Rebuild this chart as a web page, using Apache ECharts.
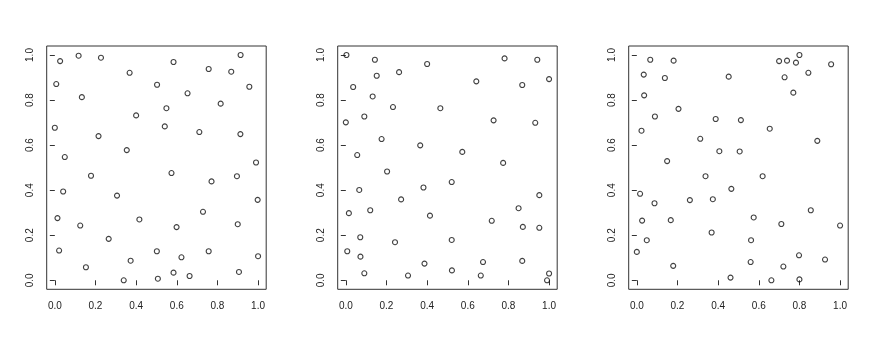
<!DOCTYPE html>
<html>
<head>
<meta charset="utf-8">
<script src="https://cdn.jsdelivr.net/npm/echarts@6/dist/echarts.min.js"></script>
<style>
html,body{margin:0;padding:0;background:#fff;}
#chart{width:872px;height:349px;}
</style>
</head>
<body>
<div id="chart"></div>
<script>
var tickValues = [0, 0.2, 0.4, 0.6, 0.8, 1.0];
var tickLabels = ['0.0', '0.2', '0.4', '0.6', '0.8', '1.0'];

var panel1X = [0.026,0.117,0.227,0.368,0.584,0.757,0.868,0.914,0.957,0.007,0.503,0.653,0.133,0.816,0.549,0.400,0.000,0.541,0.711,0.913,0.215,0.354,0.049,0.990,0.178,0.574,0.896,0.771,0.041,0.306,0.998,0.729,0.013,0.416,0.125,0.900,0.599,0.265,0.021,0.502,0.757,0.623,1.000,0.373,0.153,0.584,0.906,0.663,0.507,0.339];
var panel1Y = [0.973,0.997,0.988,0.921,0.969,0.938,0.926,1.000,0.859,0.871,0.868,0.830,0.813,0.784,0.764,0.732,0.677,0.683,0.658,0.649,0.640,0.578,0.547,0.523,0.464,0.476,0.462,0.439,0.394,0.376,0.357,0.304,0.276,0.270,0.243,0.249,0.236,0.184,0.132,0.129,0.129,0.102,0.107,0.087,0.058,0.034,0.037,0.019,0.007,0.000];

var panel2X = [0.003,0.143,0.400,0.781,0.942,0.152,0.262,0.036,0.642,0.868,1.000,0.132,0.232,0.465,0.091,0.000,0.727,0.932,0.176,0.366,0.573,0.056,0.774,0.203,0.521,0.382,0.066,0.952,0.272,0.850,0.120,0.015,0.414,0.718,0.871,0.952,0.071,0.521,0.242,0.007,0.072,0.675,0.868,0.387,0.522,0.091,0.306,0.664,1.000,0.990];
var panel2Y = [1.000,0.979,0.960,0.985,0.979,0.908,0.924,0.858,0.883,0.867,0.893,0.816,0.769,0.764,0.727,0.701,0.710,0.699,0.627,0.599,0.570,0.556,0.521,0.483,0.436,0.412,0.401,0.378,0.359,0.320,0.311,0.298,0.287,0.264,0.237,0.233,0.191,0.179,0.169,0.129,0.105,0.081,0.086,0.074,0.044,0.031,0.021,0.021,0.030,0.000];

var panel3X = [0.800,0.066,0.181,0.700,0.739,0.783,0.956,0.034,0.844,0.138,0.452,0.727,0.770,0.036,0.205,0.089,0.388,0.512,0.023,0.654,0.888,0.312,0.406,0.506,0.149,0.338,0.619,0.465,0.016,0.087,0.261,0.374,0.856,0.575,0.026,0.167,0.711,1.000,0.368,0.049,0.562,0.000,0.798,0.926,0.560,0.179,0.721,0.461,0.662,0.800];
var panel3Y = [1.000,0.979,0.975,0.973,0.975,0.966,0.959,0.913,0.921,0.898,0.904,0.901,0.833,0.821,0.761,0.727,0.716,0.711,0.664,0.673,0.619,0.628,0.573,0.572,0.529,0.462,0.462,0.406,0.384,0.342,0.356,0.360,0.311,0.279,0.265,0.267,0.250,0.243,0.212,0.178,0.178,0.126,0.111,0.092,0.081,0.064,0.061,0.012,0.000,0.004];

var panels = [[panel1X, panel1Y], [panel2X, panel2Y], [panel3X, panel3Y]];
var gridLefts = [46.7, 337.7, 628.7];

function zip(xs, ys) { return xs.map(function (x, i) { return [x, ys[i]]; }); }
function fmt(v) { var k = tickValues.indexOf(Math.round(v * 10) / 10); return k >= 0 ? tickLabels[k] : v.toFixed(1); }

var grids = [], xAxes = [], yAxes = [], series = [];
panels.forEach(function (p, i) {
  grids.push({
    left: gridLefts[i], top: 46, width: 219.5, height: 243.3,
    show: true, borderColor: '#333', borderWidth: 1, backgroundColor: 'transparent'
  });
  var common = {
    gridIndex: i, type: 'value', min: -0.04, max: 1.04,
    splitLine: { show: false },
    axisLine: { show: false },
    axisTick: { show: true, inside: false, length: 5, customValues: tickValues,
                lineStyle: { color: '#333', width: 1 } }
  };
  xAxes.push(Object.assign({}, common, {
    axisLabel: { customValues: tickValues, margin: 12, color: '#222', fontSize: 10,
                 fontFamily: 'Liberation Sans, Arial, sans-serif', formatter: fmt }
  }));
  yAxes.push(Object.assign({}, common, {
    axisLabel: { customValues: tickValues, margin: 11, rotate: 90, color: '#222', fontSize: 10,
                 fontFamily: 'Liberation Sans, Arial, sans-serif', formatter: fmt }
  }));
  series.push({
    type: 'scatter', xAxisIndex: i, yAxisIndex: i,
    data: zip(p[0], p[1]), symbol: 'circle', symbolSize: 5,
    itemStyle: { color: 'rgba(0,0,0,0)', borderColor: '#111', borderWidth: 1.1 },
    silent: true, animation: false
  });
});

var chart = echarts.init(document.getElementById('chart'), null, { renderer: 'canvas' });
chart.setOption({
  animation: false,
  backgroundColor: '#fff',
  grid: grids, xAxis: xAxes, yAxis: yAxes, series: series
});
</script>
</body>
</html>
